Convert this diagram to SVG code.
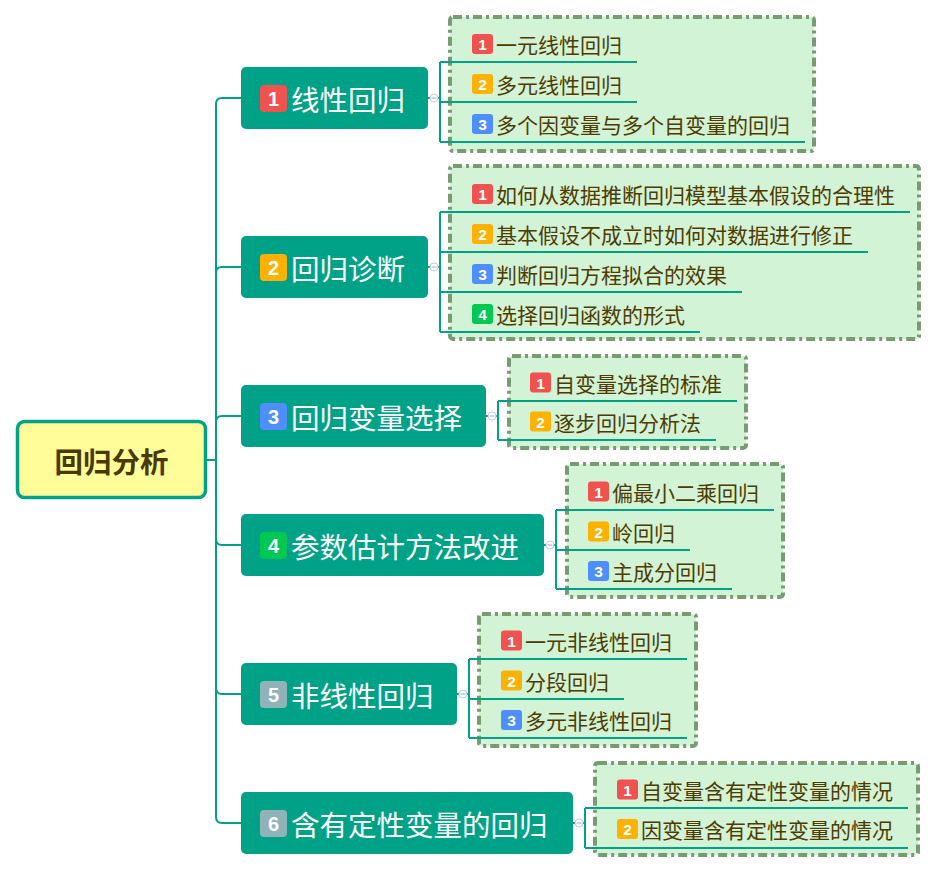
<svg xmlns="http://www.w3.org/2000/svg" width="937" height="874" viewBox="0 0 937 874">
<style>
.conn{fill:none;stroke:#00A287;stroke-width:2}
.lc{fill:none;stroke:#00A287;stroke-width:2}
.grp{fill:#D2F3D6;stroke:#779C72;stroke-width:4;stroke-dasharray:9 4 3 4}
.br{fill:#00A287}
.bt{font-family:"Noto Sans CJK SC","Noto Sans",sans-serif;font-size:28.5px;fill:#FFFFFF;dominant-baseline:central}
.lt{font-family:"Noto Sans CJK SC","Noto Sans",sans-serif;font-size:21px;fill:#4E3B00;dominant-baseline:central}
.bn{font-family:"Liberation Sans",Arial,sans-serif;font-weight:bold;font-size:20px;fill:#FFFFFF;text-anchor:middle;dominant-baseline:central}
.ln{font-family:"Liberation Sans",Arial,sans-serif;font-weight:bold;font-size:15.5px;fill:#FFFFFF;text-anchor:middle;dominant-baseline:central}
.c1{fill:#F0534F}.c2{fill:#FDB202}.c3{fill:#4F8FFD}.c4{fill:#00C853}.c5{fill:#8FB3B9}
.col{fill:#FFFFFF;stroke:#C3CAF0;stroke-width:1}
.colm{stroke:#9AA4E0;stroke-width:1}
</style>

<!-- connectors -->
<g id="connectors">
  <path class="conn" d="M207 460 H216 V104 Q216 98 222 98 H241"/>
  <path class="conn" d="M216 460 V273 Q216 267 222 267 H241"/>
  <path class="conn" d="M216 460 V422 Q216 416 222 416 H241"/>
  <path class="conn" d="M216 460 V539 Q216 545 222 545 H241"/>
  <path class="conn" d="M216 460 V688 Q216 694 222 694 H241"/>
  <path class="conn" d="M216 460 V817 Q216 823 222 823 H241"/>
</g>

<!-- root -->
<g id="root">
  <rect x="17.5" y="421.5" width="188" height="76" rx="7" fill="#FFFD9A" stroke="#00A287" stroke-width="3.5"/>
  <text x="111.5" y="460" font-family="'Noto Sans CJK SC','Noto Sans',sans-serif" font-size="28.5" font-weight="bold" fill="#4A3900" text-anchor="middle" dominant-baseline="central">回归分析</text>
</g>

<!-- branch 1 -->
<g id="branch1">
  <rect class="br" x="241" y="67" width="187" height="62" rx="5"/>
  <rect class="c1" x="260" y="85" width="27" height="27" rx="4"/>
  <text class="bn" x="273.5" y="98.5">1</text>
  <text class="bt" x="291" y="98">线性回归</text>
</g>
<g id="group1">
  <rect class="grp" x="450" y="17" width="364" height="134" rx="3"/>
  <path class="lc" d="M428 98 H440 M440 62 V142 M440 62 H637 M440 102 H637 M440 142 H805"/>
  <circle class="col" cx="434" cy="98" r="4"/><path class="colm" d="M431.5 98 H436.5"/>
  <rect class="c1" x="472" y="34" width="21" height="20" rx="3"/><text class="ln" x="482.5" y="44.5">1</text>
  <text class="lt" x="496" y="44">一元线性回归</text>
  <rect class="c2" x="472" y="74" width="21" height="20" rx="3"/><text class="ln" x="482.5" y="84.5">2</text>
  <text class="lt" x="496" y="84">多元线性回归</text>
  <rect class="c3" x="472" y="114" width="21" height="20" rx="3"/><text class="ln" x="482.5" y="124.5">3</text>
  <text class="lt" x="496" y="124">多个因变量与多个自变量的回归</text>
</g>

<!-- branch 2 -->
<g id="branch2">
  <rect class="br" x="241" y="236" width="187" height="62" rx="5"/>
  <rect class="c2" x="260" y="254" width="27" height="27" rx="4"/>
  <text class="bn" x="273.5" y="267.5">2</text>
  <text class="bt" x="291" y="267">回归诊断</text>
</g>
<g id="group2">
  <rect class="grp" x="450" y="166" width="469" height="173" rx="3"/>
  <path class="lc" d="M428 267 H440 M440 212 V332 M440 212 H910 M440 252 H868 M440 292 H742 M440 332 H700"/>
  <circle class="col" cx="434" cy="267" r="4"/><path class="colm" d="M431.5 267 H436.5"/>
  <rect class="c1" x="472" y="184" width="21" height="20" rx="3"/><text class="ln" x="482.5" y="194.5">1</text>
  <text class="lt" x="496" y="194">如何从数据推断回归模型基本假设的合理性</text>
  <rect class="c2" x="472" y="224" width="21" height="20" rx="3"/><text class="ln" x="482.5" y="234.5">2</text>
  <text class="lt" x="496" y="234">基本假设不成立时如何对数据进行修正</text>
  <rect class="c3" x="472" y="264" width="21" height="20" rx="3"/><text class="ln" x="482.5" y="274.5">3</text>
  <text class="lt" x="496" y="274">判断回归方程拟合的效果</text>
  <rect class="c4" x="472" y="304" width="21" height="20" rx="3"/><text class="ln" x="482.5" y="314.5">4</text>
  <text class="lt" x="496" y="314">选择回归函数的形式</text>
</g>

<!-- branch 3 -->
<g id="branch3">
  <rect class="br" x="241" y="385" width="245" height="62" rx="5"/>
  <rect class="c3" x="260" y="403" width="27" height="27" rx="4"/>
  <text class="bn" x="273.5" y="416.5">3</text>
  <text class="bt" x="291" y="416">回归变量选择</text>
</g>
<g id="group3">
  <rect class="grp" x="509" y="356" width="237" height="92" rx="3"/>
  <path class="lc" d="M486 416 H498 M498 401 V440 M498 401 H737 M498 440 H716"/>
  <circle class="col" cx="492" cy="416" r="4"/><path class="colm" d="M489.5 416 H494.5"/>
  <rect class="c1" x="530" y="372.5" width="21" height="20" rx="3"/><text class="ln" x="540.5" y="383">1</text>
  <text class="lt" x="554" y="382.5">自变量选择的标准</text>
  <rect class="c2" x="530" y="411.5" width="21" height="20" rx="3"/><text class="ln" x="540.5" y="422">2</text>
  <text class="lt" x="554" y="421.5">逐步回归分析法</text>
</g>

<!-- branch 4 -->
<g id="branch4">
  <rect class="br" x="241" y="514" width="303" height="62" rx="5"/>
  <rect class="c4" x="260" y="532" width="27" height="27" rx="4"/>
  <text class="bn" x="273.5" y="545.5">4</text>
  <text class="bt" x="291" y="545">参数估计方法改进</text>
</g>
<g id="group4">
  <rect class="grp" x="567" y="464" width="216" height="133" rx="3"/>
  <path class="lc" d="M544 545 H556 M556 510 V589 M556 510 H774 M556 550 H690 M556 589 H732"/>
  <circle class="col" cx="550" cy="545" r="4"/><path class="colm" d="M547.5 545 H552.5"/>
  <rect class="c1" x="588" y="481.5" width="21" height="20" rx="3"/><text class="ln" x="598.5" y="492">1</text>
  <text class="lt" x="612" y="491.5">偏最小二乘回归</text>
  <rect class="c2" x="588" y="521.5" width="21" height="20" rx="3"/><text class="ln" x="598.5" y="532">2</text>
  <text class="lt" x="612" y="531.5">岭回归</text>
  <rect class="c3" x="588" y="561" width="21" height="20" rx="3"/><text class="ln" x="598.5" y="571.5">3</text>
  <text class="lt" x="612" y="571">主成分回归</text>
</g>

<!-- branch 5 -->
<g id="branch5">
  <rect class="br" x="241" y="663" width="216" height="62" rx="5"/>
  <rect class="c5" x="260" y="681" width="27" height="27" rx="4"/>
  <text class="bn" x="273.5" y="694.5">5</text>
  <text class="bt" x="291" y="694">非线性回归</text>
</g>
<g id="group5">
  <rect class="grp" x="479" y="614" width="217" height="132" rx="3"/>
  <path class="lc" d="M457 694 H469 M469 659 V738 M469 659 H687 M469 699 H624 M469 738 H687"/>
  <circle class="col" cx="463" cy="694" r="4"/><path class="colm" d="M460.5 694 H465.5"/>
  <rect class="c1" x="501" y="630.5" width="21" height="20" rx="3"/><text class="ln" x="511.5" y="641">1</text>
  <text class="lt" x="525" y="640.5">一元非线性回归</text>
  <rect class="c2" x="501" y="670.5" width="21" height="20" rx="3"/><text class="ln" x="511.5" y="681">2</text>
  <text class="lt" x="525" y="680.5">分段回归</text>
  <rect class="c3" x="501" y="710" width="21" height="20" rx="3"/><text class="ln" x="511.5" y="720.5">3</text>
  <text class="lt" x="525" y="720">多元非线性回归</text>
</g>

<!-- branch 6 -->
<g id="branch6">
  <rect class="br" x="241" y="792" width="332" height="62" rx="5"/>
  <rect class="c5" x="260" y="810" width="27" height="27" rx="4"/>
  <text class="bn" x="273.5" y="823.5">6</text>
  <text class="bt" x="291" y="823">含有定性变量的回归</text>
</g>
<g id="group6">
  <rect class="grp" x="595" y="763" width="323" height="92" rx="3"/>
  <path class="lc" d="M573 823 H585 M585 808 V848 M585 808 H908 M585 848 H908"/>
  <circle class="col" cx="579" cy="823" r="4"/><path class="colm" d="M576.5 823 H581.5"/>
  <rect class="c1" x="617" y="779.5" width="21" height="20" rx="3"/><text class="ln" x="627.5" y="790">1</text>
  <text class="lt" x="641" y="789.5">自变量含有定性变量的情况</text>
  <rect class="c2" x="617" y="819" width="21" height="20" rx="3"/><text class="ln" x="627.5" y="829.5">2</text>
  <text class="lt" x="641" y="829">因变量含有定性变量的情况</text>
</g>
</svg>
